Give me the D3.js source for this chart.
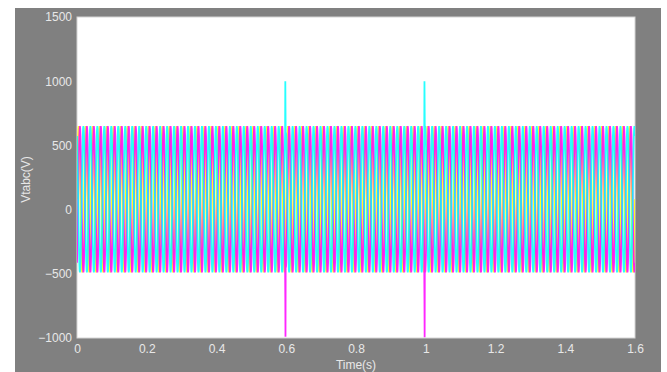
<!DOCTYPE html>
<html>
<head>
<meta charset="utf-8">
<script src="https://cdn.jsdelivr.net/npm/d3@7/dist/d3.min.js"></script>
<style>
  html, body { margin: 0; padding: 0; background: #ffffff; }
  svg { display: block; }
  text { font-family: "Liberation Sans", Arial, sans-serif; }
</style>
</head>
<body>
<svg id="chart" width="667" height="372"></svg>
<script>
// Three-phase terminal voltage, 50 Hz steady state, one cycle sampled every 15 degrees
const frequency = 50;
const cycleCount = 80;
const phaseA = [80, 228, 365, 483, 574, 631, 650, 631, 574, 483, 365, 228, 80, -68, -205, -323, -414, -471, -490, -471, -414, -323, -205, -68];
const phaseB = [-414, -323, -205, -68, 80, 228, 365, 483, 574, 631, 650, 631, 574, 483, 365, 228, 80, -68, -205, -323, -414, -471, -490, -471];
const phaseC = [574, 483, 365, 228, 80, -68, -205, -323, -414, -471, -490, -471, -414, -323, -205, -68, 80, 228, 365, 483, 574, 631, 650, 631];
const phaseColors = ["#ffff00", "#ff00ff", "#00ffff"];

// Switching transients: start time and the two extreme values reached
const spikeTimes = [0.5975, 0.9965];
const spikeB = [[-680, -990], [-700, -995]];
const spikeC = [[1000, 790], [1000, 800]];

const xTicks = [0, 0.2, 0.4, 0.6, 0.8, 1, 1.2, 1.4, 1.6];
const yTicks = [-1000, -500, 0, 500, 1000, 1500];

const svg = d3.select("#chart");
const plot = { left: 77, top: 17, right: 635, bottom: 338 };

const x = d3.scaleLinear().domain([0, 1.6]).range([plot.left, plot.right]);
const y = d3.scaleLinear().domain([-1000, 1500]).range([plot.bottom, plot.top]);

// Scope frame
svg.append("rect").attr("x", 15).attr("y", 8).attr("width", 646).attr("height", 364).attr("fill", "#808080");
svg.append("rect")
  .attr("x", plot.left).attr("y", plot.top)
  .attr("width", plot.right - plot.left).attr("height", plot.bottom - plot.top)
  .attr("fill", "#ffffff").attr("stroke", "#d4d4d4").attr("stroke-width", 1);

svg.append("clipPath").attr("id", "plotClip")
  .append("rect")
  .attr("x", plot.left).attr("y", plot.top)
  .attr("width", plot.right - plot.left).attr("height", plot.bottom - plot.top);

// Build a phase trace from its cycle samples plus transient points
function buildSeries(cycle, spikes, sign) {
  const n = cycle.length;
  const dt = 1 / (frequency * n);
  let pts = [];
  for (let c = 0; c < cycleCount; c++) {
    for (let k = 0; k < n; k++) {
      pts.push([(c * n + k) * dt, cycle[k]]);
    }
  }
  pts.push([cycleCount * n * dt, cycle[0]]);
  if (spikes) {
    spikeTimes.forEach((t, i) => {
      const [v1, v2] = spikes[i];
      // replace the regular samples inside the transient window
      pts = pts.filter(p => p[0] < t - 0.0009 || p[0] > t + 0.0018);
      const edge = sign > 0 ? 600 : -450;
      pts.push([t - 0.0008, edge]);
      pts.push([t - 0.0002, v1]);
      pts.push([t + 0.0003, v2]);
      pts.push([t + 0.0008, edge]);
      pts.push([t + 0.0017, edge]);
    });
    pts.sort((a, b) => a[0] - b[0]);
  }
  return pts;
}

const series = [
  buildSeries(phaseA, null, 0),
  buildSeries(phaseB, spikeB, -1),
  buildSeries(phaseC, spikeC, 1)
];

const line = d3.line().x(d => x(d[0])).y(d => y(d[1]));

const traces = svg.append("g").attr("clip-path", "url(#plotClip)");
series.forEach((s, i) => {
  traces.append("path")
    .datum(s)
    .attr("d", line)
    .attr("fill", "none")
    .attr("stroke", phaseColors[i])
    .attr("stroke-width", 1.8)
    .attr("stroke-opacity", 0.85)
    .attr("stroke-linejoin", "bevel");
});

// Axes
const labelColor = "#e8e8e8";
const yAxis = svg.append("g")
  .attr("transform", `translate(${plot.left},0)`)
  .call(d3.axisLeft(y).tickValues(yTicks).tickSize(0).tickPadding(5).tickFormat(d3.format("d")));
yAxis.select(".domain").remove();
yAxis.selectAll("text").attr("fill", labelColor).style("font-size", "12px")
  .style("font-family", "'Liberation Sans', Arial, sans-serif");

const xAxis = svg.append("g")
  .attr("transform", `translate(0,${plot.bottom})`)
  .call(d3.axisBottom(x).tickValues(xTicks).tickSize(0).tickPadding(6).tickFormat(d => String(d)));
xAxis.select(".domain").remove();
xAxis.selectAll("text").attr("fill", labelColor).style("font-size", "12px")
  .style("font-family", "'Liberation Sans', Arial, sans-serif");

svg.append("text")
  .attr("x", (plot.left + plot.right) / 2).attr("y", 369)
  .attr("text-anchor", "middle").attr("fill", labelColor).style("font-size", "12px")
  .text("Time(s)");

svg.append("text")
  .attr("transform", `translate(30,${(plot.top + plot.bottom) / 2 + 2}) rotate(-90)`)
  .attr("text-anchor", "middle").attr("fill", labelColor).style("font-size", "12px")
  .text("Vtabc(V)");
</script>
</body>
</html>
